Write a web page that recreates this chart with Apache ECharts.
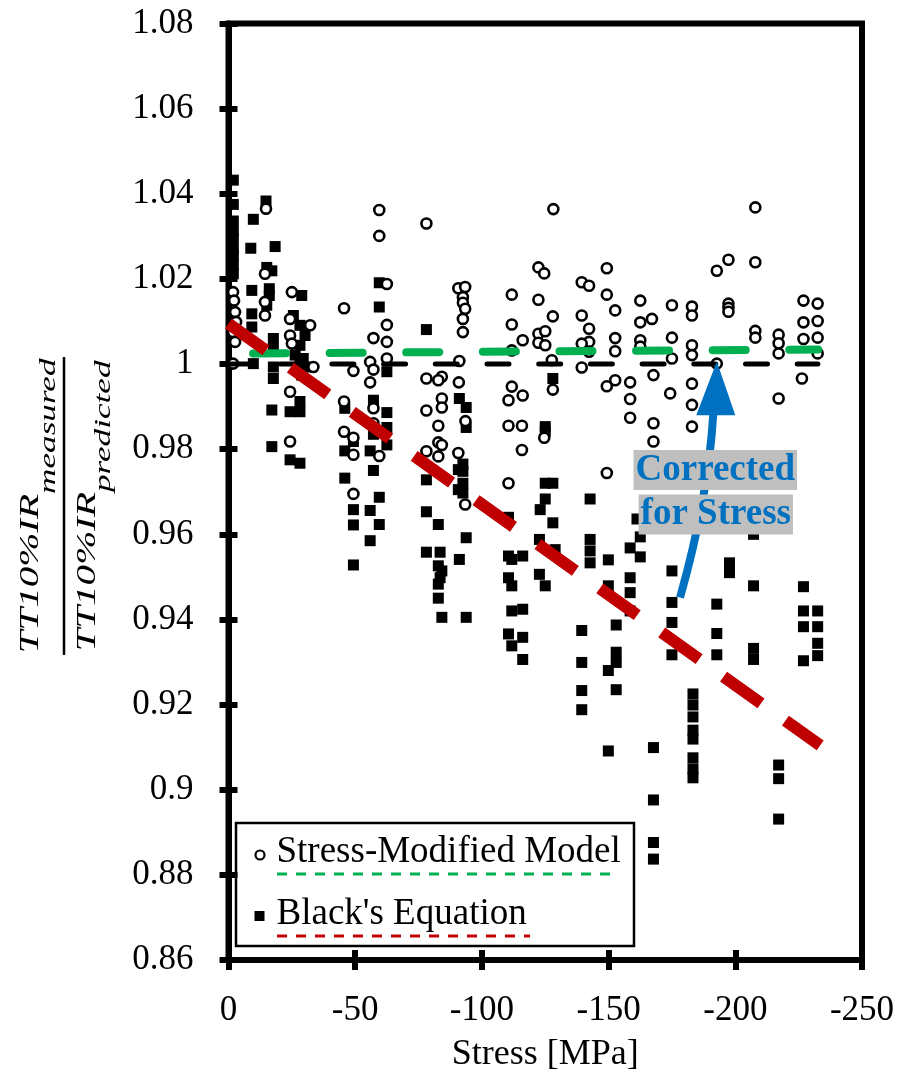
<!DOCTYPE html>
<html>
<head>
<meta charset="utf-8">
<script src="https://cdn.jsdelivr.net/npm/echarts@6/dist/echarts.min.js"></script>
<style>
html,body{margin:0;padding:0;background:#fff;}
#c{width:902px;height:1078px;}
</style>
</head>
<body>
<div id="c"></div>
<script>
// ---------------- DATA ----------------
const seriesNames = ['Stress-Modified Model', "Black's Equation"];
const xTitle = 'Stress [MPa]';
const annotationLines = ['Corrected', 'for Stress'];

// Stress-Modified Model (open circles): [stress MPa, ratio]
const stressModified = [
  [-1.8,1.0169],[-2.2,1.0149],[-2.6,1.0122],[-3.0,1.0099],[-1.8,1.0075],[-2.6,1.0052],[-1.8,1.0001],
  [-14.8,1.0365],[-14.4,1.0212],[-14.4,1.0146],[-14.4,1.0114],
  [-25.0,1.0169],[-24.3,1.0106],[-24.3,1.0067],[-25.0,1.0048],[-24.3,0.9935],[-24.3,0.9818],
  [-32.2,1.0091],[-33.5,0.9993],
  [-45.6,1.0131],[-45.6,0.9912],[-45.6,0.9841],
  [-49.3,0.9984],[-49.3,0.9827],[-49.3,0.9787],[-49.3,0.9695],
  [-55.9,1.0005],[-57.2,0.9987],[-55.9,0.9957],[-57.2,1.0061],[-57.2,0.9896],[-57.2,0.9861],
  [-59.5,1.0362],[-59.5,1.0301],[-62.5,1.0188],[-62.5,1.0092],[-62.5,1.0052],[-62.5,1.0013],[-59.5,0.9784],
  [-78.1,1.0330],[-78.1,0.9966],[-78.1,0.9891],[-78.1,0.9795],
  [-84.2,0.9970],[-82.8,0.9962],[-84.2,0.9919],[-84.2,0.9898],[-82.8,0.9855],[-82.8,0.9816],[-84.2,0.9810],[-82.8,0.9783],
  [-90.7,1.0178],[-93.4,1.0181],[-92.5,1.0157],[-92.5,1.0144],[-93.4,1.0130],[-92.5,1.0106],[-92.5,1.0075],
  [-91.1,1.0007],[-90.9,0.9957],[-93.5,0.9866],[-90.7,0.9791],[-93.4,0.9670],
  [-111.8,1.0163],[-111.8,1.0093],[-111.8,1.0032],[-111.8,0.9947],[-110.5,0.9915],[-110.5,0.9855],[-110.5,0.9720],
  [-116.1,1.0056],[-116.1,0.9926],[-115.8,0.9855],[-115.8,0.9798],
  [-122.3,1.0227],[-124.6,1.0213],[-122.3,1.0151],[-122.3,1.0071],[-125.0,1.0077],[-122.3,1.0050],[-125.0,1.0044],[-124.6,0.9827],
  [-128.2,1.0364],[-128.0,1.0112],[-127.6,1.0009],[-128.0,0.9940],
  [-139.4,1.0192],[-142.3,1.0184],[-139.4,1.0114],[-142.3,1.0083],[-142.3,1.0052],[-139.4,1.0048],[-142.3,1.0029],[-139.4,0.9992],
  [-149.3,1.0225],[-149.3,1.0163],[-152.6,1.0126],[-152.6,1.0061],[-152.6,1.0030],[-152.6,0.9962],[-149.3,0.9948],[-149.3,0.9744],
  [-158.5,0.9957],[-158.5,0.9918],[-158.5,0.9874],
  [-162.5,1.0149],[-162.5,1.0098],[-162.5,1.0056],[-162.5,1.0041],
  [-167.1,1.0106],[-167.7,0.9974],[-167.7,0.9861],[-167.7,0.9818],
  [-175.0,1.0138],[-175.0,1.0062],[-175.0,1.0013],[-174.3,0.9931],
  [-182.9,1.0135],[-182.9,1.0114],[-182.9,1.0044],[-182.9,1.0021],[-182.9,0.9954],[-182.9,0.9904],[-182.9,0.9853],
  [-192.7,1.0219],[-192.7,1.0001],
  [-197.3,1.0245],[-197.3,1.0142],[-197.3,1.0132],[-197.3,1.0123],
  [-207.9,1.0368],[-207.9,1.0239],[-207.9,1.0078],[-207.9,1.0062],
  [-217.1,1.0069],[-217.1,1.0049],[-217.1,1.0025],[-217.1,0.9919],
  [-226.9,1.0149],[-226.9,1.0098],[-226.9,1.0059],[-226.3,0.9966],
  [-232.5,1.0142],[-232.5,1.0101],[-232.5,1.0062],[-232.5,1.0025]
];

// Black's Equation (filled squares): [stress MPa, ratio]
const blackEquation = [
  [-1.9,1.0432],[-1.9,1.0375],[-1.9,1.0336],[-1.9,1.0312],[-1.9,1.0294],[-1.9,1.0270],[-1.9,1.0255],[-1.9,1.0233],[-1.9,1.0212],
  [-9.8,1.0340],[-8.8,1.0272],[-9.2,1.0173],[-9.2,1.0118],[-9.2,1.0087],[-9.8,1.0001],
  [-14.8,1.0383],[-18.4,1.0276],[-15.1,1.0227],[-17.1,1.0219],[-16.1,1.0177],[-16.1,1.0161],[-15.1,1.0138],
  [-17.7,1.0060],[-17.7,1.0036],[-17.7,0.9993],[-17.7,0.9966],[-17.1,0.9892],[-17.1,0.9806],
  [-28.9,1.0161],[-25.6,1.0114],[-28.2,1.0091],[-30.2,1.0067],[-28.2,1.0044],[-26.3,1.0021],[-29.5,1.0013],
  [-32.2,0.9993],[-28.2,0.9997],[-28.9,0.9974],[-28.2,0.9912],[-28.2,0.9888],[-24.3,0.9888],[-24.3,0.9775],[-28.2,0.9767],
  [-45.9,0.9896],[-45.9,0.9796],[-45.9,0.9732],
  [-49.3,0.9818],[-49.3,0.9658],[-49.3,0.9622],[-49.3,0.9528],
  [-57.2,0.9915],[-57.2,0.9835],[-55.9,0.9796],[-57.2,0.9750],[-55.9,0.9656],[-55.9,0.9585],
  [-59.5,1.0191],[-59.5,1.0134],[-62.5,0.9982],[-62.5,0.9886],[-62.5,0.9851],[-62.5,0.9810],[-59.5,0.9687],[-59.5,0.9623],
  [-78.1,1.0081],[-78.1,0.9728],[-78.1,0.9653],[-78.1,0.9558],
  [-82.8,0.9623],[-83.5,0.9558],[-82.8,0.9526],[-84.2,0.9514],[-83.5,0.9498],[-82.8,0.9483],[-82.8,0.9450],[-84.2,0.9405],
  [-91.1,0.9919],[-93.8,0.9898],[-93.8,0.9851],[-92.5,0.9765],[-90.7,0.9752],[-92.5,0.9748],[-92.5,0.9720],[-90.7,0.9705],
  [-92.5,0.9697],[-93.8,0.9592],[-91.1,0.9541],[-93.8,0.9405],
  [-110.5,0.9640],[-110.5,0.9549],[-111.8,0.9541],[-110.5,0.9498],[-111.8,0.9479],[-111.8,0.9420],[-110.5,0.9366],[-111.8,0.9338],
  [-116.1,0.9549],[-116.1,0.9424],[-116.1,0.9358],[-116.1,0.9306],
  [-125.0,0.9853],[-125.0,0.9842],[-125.0,0.9720],[-125.0,0.9683],[-123.0,0.9658],[-122.7,0.9588],[-122.7,0.9506],[-125.0,0.9479],
  [-128.0,0.9966],[-128.0,0.9720],[-128.0,0.9627],[-128.9,0.9564],
  [-142.7,0.9683],[-142.7,0.9588],[-142.7,0.9561],[-142.7,0.9533],[-139.4,0.9374],[-139.4,0.9299],[-139.4,0.9233],[-139.4,0.9188],
  [-149.9,0.9540],[-149.9,0.9479],[-153.0,0.9387],[-153.0,0.9323],[-153.0,0.9299],[-149.9,0.9280],[-153.0,0.9235],[-149.9,0.9091],
  [-158.5,0.9568],[-158.5,0.9498],[-158.5,0.9463],[-158.5,0.9420],
  [-161.2,0.9636],[-162.5,0.9594],[-162.5,0.9547],
  [-167.7,0.9099],[-167.7,0.8976],[-167.7,0.8876],[-167.7,0.8837],
  [-175.0,0.9514],[-175.0,0.9440],[-175.0,0.9393],[-175.0,0.9317],
  [-183.3,0.9225],[-183.3,0.9199],[-183.3,0.9171],[-183.3,0.9140],[-183.3,0.9119],[-183.3,0.9075],[-183.3,0.9049],[-183.3,0.9028],
  [-192.7,0.9436],[-192.7,0.9367],[-192.7,0.9317],
  [-197.7,0.9533],[-197.7,0.9510],
  [-207.2,0.9600],[-207.2,0.9479],[-207.2,0.9332],[-207.2,0.9306],
  [-217.1,0.9058],[-217.1,0.9026],[-217.1,0.8931],
  [-226.9,0.9477],[-226.9,0.9420],[-226.9,0.9383],[-226.9,0.9303],
  [-232.5,0.9420],[-232.5,0.9383],[-232.5,0.9344],[-232.5,0.9315]
];

// reference / fit lines
const idealLine = [[0, 1.0], [-232.6, 1.0]];
const stressModelFit = [[-9.7, 1.0025], [-232.7, 1.0034]];
const blackFit = [[0, 1.0095], [-233.5, 0.9104]];

// annotation arrow (data coordinates)
const arrowShaft = [[-178.2, 0.94515], [-189.3, 0.96854], [-191.3, 0.98819]]; // start, control, end
const arrowHead = [[-192.7, 1.00058], [-184.6, 0.98795], [-200.0, 0.98795]];
const annotationCenters = [[-192.1, 0.97509], [-192.3, 0.96468]];

// ---------------- CHART ----------------
const FONT = '"Liberation Serif", "Times New Roman", serif';
const chart = echarts.init(document.getElementById('c'));

const xBase = {type: 'value', min: -250, max: 0, interval: 50, inverse: true, splitLine: {show: false}};
const yBase = {type: 'value', min: 0.86, max: 1.08, interval: 0.02, splitLine: {show: false}};

chart.setOption({
  animation: false,
  backgroundColor: '#fff',
  grid: {left: 228.5, top: 23.5, width: 633.5, height: 941, show: true, borderColor: '#000', borderWidth: 6},
  xAxis: [
    Object.assign({}, xBase, {
      name: xTitle, nameLocation: 'middle', nameGap: 77,
      nameTextStyle: {fontFamily: FONT, fontSize: 36, color: '#000'},
      axisLine: {onZero: false, lineStyle: {color: '#000', width: 6}},
      axisTick: {length: 10, lineStyle: {color: '#000', width: 6}},
      axisLabel: {margin: 33, fontFamily: FONT, fontSize: 35, color: '#000'}
    }),
    Object.assign({}, xBase, {
      position: 'bottom',
      axisLine: {show: false},
      axisTick: {inside: true, length: 10, lineStyle: {color: '#000', width: 6}},
      axisLabel: {show: false}
    })
  ],
  yAxis: [
    Object.assign({}, yBase, {
      axisLine: {onZero: false, lineStyle: {color: '#000', width: 6}},
      axisTick: {length: 9, lineStyle: {color: '#000', width: 6}},
      axisLabel: {margin: 35, fontFamily: FONT, fontSize: 35, color: '#000'}
    }),
    Object.assign({}, yBase, {
      position: 'left',
      axisLine: {show: false},
      axisTick: {inside: true, length: 9, lineStyle: {color: '#000', width: 6}},
      axisLabel: {show: false}
    })
  ],
  series: [
    {
      name: seriesNames[1], type: 'scatter', data: blackEquation, symbol: 'rect', symbolSize: 11,
      itemStyle: {color: '#000', opacity: 1}, emphasis: {disabled: true}, z: 2
    },
    {
      name: seriesNames[0], type: 'scatter', data: stressModified, symbol: 'circle', symbolSize: 10,
      itemStyle: {color: '#fff', borderColor: '#000', borderWidth: 2.6, opacity: 1}, emphasis: {disabled: true}, z: 3
    },
    {
      name: 'ideal', type: 'line', data: idealLine, symbol: 'none', z: 4,
      lineStyle: {color: '#000', width: 5, type: [22, 29.7], cap: 'round'}
    },
    {
      name: seriesNames[0] + ' fit', type: 'line', data: stressModelFit, symbol: 'none', z: 5,
      lineStyle: {color: '#00B050', width: 8, type: [33, 43.6], cap: 'round'}
    },
    {
      name: seriesNames[1] + ' fit', type: 'line', data: blackFit, symbol: 'none', z: 6,
      lineStyle: {color: '#C00000', width: 12, type: [46, 30], cap: 'butt'}
    }
  ]
});

// ---------- annotations, legend, y-axis title ----------
const px = p => chart.convertToPixel({gridIndex: 0}, p);
const s0 = px(arrowShaft[0]), sc = px(arrowShaft[1]), s1 = px(arrowShaft[2]);
const headPts = arrowHead.map(px);
const c1 = px(annotationCenters[0]), c2 = px(annotationCenters[1]);

// y-axis fraction title measured with canvas
const ctx = document.createElement('canvas').getContext('2d');
function tw(t, size) { ctx.font = 'italic ' + size + 'px "Liberation Serif"'; return ctx.measureText(t).width; }
const MAIN = 28, SUB = 24;
const wNumMain = tw('TT10%IR', MAIN), wNumSub = tw('measured', SUB);
const wDenMain = wNumMain, wDenSub = tw('predicted', SUB);
const targetLen = 295;
const sx = targetLen / (wNumMain + wNumSub);
const numStart = -(wNumMain + wNumSub) / 2;
const denStart = -(wDenMain + wDenSub) / 2;
const fracHalf = 298 / sx / 2;
const ital = (txt, size) => ({text: txt, fontSize: size, fontStyle: 'italic', fontFamily: FONT, fill: '#000', align: 'left', verticalAlign: 'middle'});

const graphics = [
  // y-axis title as a fraction
  {
    type: 'group', x: 64, y: 506, rotation: Math.PI / 2, scaleX: sx, z: 50,
    children: [
      {type: 'text', x: numStart, y: -24 - 0.3375 * MAIN, style: ital('TT10%IR', MAIN)},
      {type: 'text', x: numStart + wNumMain, y: -7 - 0.3375 * SUB, style: ital('measured', SUB)},
      {type: 'line', shape: {x1: -fracHalf, y1: 0, x2: fracHalf, y2: 0}, style: {stroke: '#000', lineWidth: 2.5}},
      {type: 'text', x: denStart, y: 33 - 0.3375 * MAIN, style: ital('TT10%IR', MAIN)},
      {type: 'text', x: denStart + wDenMain, y: 48 - 0.3375 * SUB, style: ital('predicted', SUB)}
    ]
  },
  // arrow
  {
    type: 'bezierCurve', z: 60,
    shape: {x1: s0[0], y1: s0[1], cpx1: sc[0], cpy1: sc[1], x2: s1[0], y2: s1[1]},
    style: {stroke: '#0070C0', lineWidth: 8, fill: null}
  },
  {
    type: 'polygon', z: 60,
    shape: {points: headPts},
    style: {fill: '#0070C0'}
  },
  // annotation text
  {
    type: 'text', x: c1[0], y: c1[1], z: 70,
    style: {text: annotationLines[0], fontSize: 37, fontWeight: 'bold', fontFamily: FONT, fill: '#0070C0',
            align: 'center', verticalAlign: 'middle', backgroundColor: '#BFBFBF', padding: [0, 2], lineHeight: 40}
  },
  {
    type: 'text', x: c2[0], y: c2[1], z: 70,
    style: {text: annotationLines[1], fontSize: 37, fontWeight: 'bold', fontFamily: FONT, fill: '#0070C0',
            align: 'center', verticalAlign: 'middle', backgroundColor: '#BFBFBF', padding: [0, 2], lineHeight: 40}
  },
  // legend
  {
    type: 'group', z: 80,
    children: [
      {type: 'rect', shape: {x: 236, y: 823, width: 398, height: 123}, style: {fill: '#fff', stroke: '#000', lineWidth: 2.5}},
      {type: 'circle', shape: {cx: 260, cy: 855, r: 4.5}, style: {fill: '#fff', stroke: '#000', lineWidth: 2.2}},
      {type: 'text', x: 276.5, y: 865 - 0.3375 * 37,
       style: {text: seriesNames[0], fontSize: 37, fontFamily: FONT, fill: '#000', align: 'left', verticalAlign: 'middle'}},
      {type: 'line', shape: {x1: 277, y1: 874, x2: 610, y2: 874}, style: {stroke: '#00B050', lineWidth: 3, lineDash: [10, 9]}},
      {type: 'rect', shape: {x: 254.5, y: 911, width: 10, height: 10}, style: {fill: '#000'}},
      {type: 'text', x: 276.5, y: 927 - 0.3375 * 37,
       style: {text: seriesNames[1], fontSize: 37, fontFamily: FONT, fill: '#000', align: 'left', verticalAlign: 'middle'}},
      {type: 'line', shape: {x1: 277, y1: 936, x2: 530, y2: 936}, style: {stroke: '#C00000', lineWidth: 3, lineDash: [10, 9]}}
    ]
  }
];
chart.setOption({graphic: graphics});
</script>
</body>
</html>
